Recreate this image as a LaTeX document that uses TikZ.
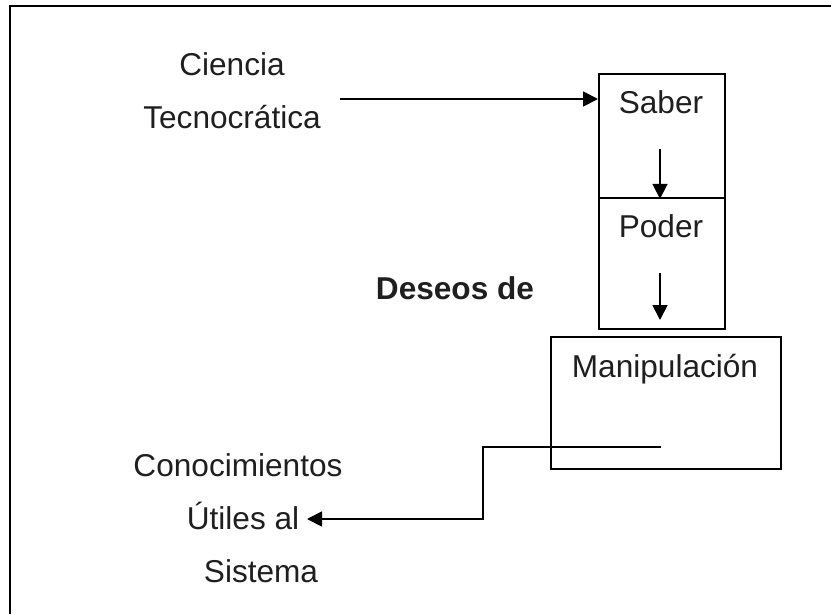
\documentclass[tikz,border=0pt]{standalone}
\usepackage{fontspec}
\setmainfont{Liberation Sans}
\usetikzlibrary{arrows.meta}
\begin{document}
\begin{tikzpicture}[x=1pt,y=-1pt,
  ln/.style={line width=1.8pt, line join=miter},
  arr/.style={ln, -{Triangle[length=15pt,width=15pt]}},
  boxnode/.style={draw, line width=1.8pt, inner sep=0pt, anchor=north west},
  txt/.style={inner sep=0pt, anchor=base, text=black!88, font=\fontsize{31.6}{38}\selectfont},
  btxt/.style={txt, font=\fontsize{31.6}{38}\selectfont\bfseries}]
\useasboundingbox (0,0) rectangle (831,614);
% frame (only top and left visible)
\draw[ln] (10,614) -- (10,6) -- (831,6);
% boxes
\node[boxnode, minimum width=126pt, minimum height=124pt] (saber) at (598,73) {};
\node[boxnode, minimum width=126pt, minimum height=131pt] (poder) at (598,197) {};
\node[boxnode, minimum width=230pt, minimum height=132pt] (manip) at (550,336) {};
% texts
\node[txt] (tsaber) at (661,113) {Saber};
\node[txt] (tpoder) at (661,237) {Poder};
\node[txt] (tmanip) at (665,377) {Manipulación};
\node[txt] (ciencia) at (232,75) {Ciencia};
\node[txt] (tecno) at (232,128) {Tecnocrática};
\node[btxt] (deseos) at (455,299) {Deseos de};
\node[txt] (conoc) at (238,476) {Conocimientos};
\node[txt] (utiles) at (243,529) {Útiles al};
\node[txt] (sistema) at (261,582) {Sistema};
% connector coordinates
\coordinate (a0) at (340,99);
\coordinate (s1) at (660,149);
\coordinate (p1) at (660,273);
\coordinate (p2) at (660,320);
\coordinate (m0) at (661,447);
\coordinate (m1) at (483,447);
\coordinate (m2) at (483,519);
\coordinate (uend) at (307,519);
% connectors
\draw[arr] (a0) -- (a0 -| saber.west);
\draw[arr] (s1) -- (s1 |- saber.south);
\draw[arr] (p1) -- (p2);
\draw[arr] (m0) -- (m1) -- (m2) -- (uend);
\end{tikzpicture}
\end{document}
